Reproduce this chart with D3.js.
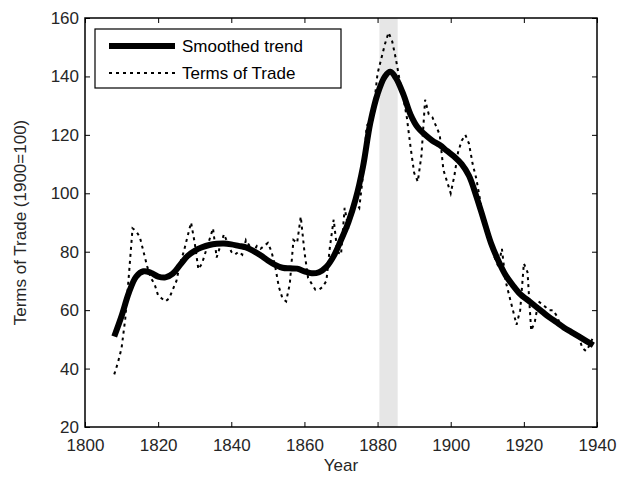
<!DOCTYPE html>
<html>
<head>
<meta charset="utf-8">
<script src="https://cdn.jsdelivr.net/npm/d3@7"></script>
<style>
  body { margin: 0; background: #fff; }
  text { font-family: "Liberation Sans", Arial, Helvetica, sans-serif; }
</style>
</head>
<body>
<svg id="chart" width="623" height="483"></svg>
<script>
// annual terms of trade, 1808..1939
var tradeStart = 1808;
var tradeValues = [
  38, 42, 47, 57, 72, 88, 87, 85, 80, 75,
  71, 69, 65, 64, 63, 64, 67, 70, 76, 80,
  85, 90, 83, 74, 76, 80, 84, 88, 78, 82,
  86, 83, 80, 79, 80, 79, 84, 82, 80, 82,
  81, 82, 83, 80, 75, 68, 64, 63, 69, 84,
  83, 92, 80, 71, 69, 67, 67, 68, 70, 82,
  91, 80, 79, 95, 88, 93, 97, 95, 106, 123,
  125, 130, 141, 146, 151, 155, 152, 146, 139, 133,
  126, 116, 107, 104, 113, 132, 127, 126, 123, 120,
  108, 104, 100, 106, 114, 118, 120, 117, 110, 105,
  98, 90, 87, 84, 78, 75, 81, 70, 65, 60,
  55, 60, 76, 73, 53, 56, 63, 62, 61, 60,
  60, 58, 55, 54, 53, 53, 52, 51, 47, 46,
  48, 51
];

var trendYears = [1808, 1810, 1812, 1814, 1816, 1818, 1820, 1822, 1824, 1826,
  1828, 1830, 1832, 1834, 1836, 1838, 1840, 1842, 1844, 1846,
  1848, 1850, 1852, 1854, 1856, 1858, 1860, 1862, 1864, 1866,
  1868, 1870, 1872, 1874, 1876, 1878, 1880, 1882, 1883.5, 1885,
  1887, 1889, 1891, 1893, 1895, 1897, 1899, 1901, 1903, 1905,
  1907, 1909, 1911, 1913, 1915, 1917, 1919, 1921, 1923, 1925,
  1927, 1929, 1931, 1933, 1935, 1937, 1939];
var trendValues = [51, 58, 66, 71.5, 73.3, 72.8, 71.5, 71.2, 72.5, 75.5,
  78.5, 80.3, 81.5, 82.3, 82.7, 82.8, 82.5, 82, 81.5, 80.3,
  78.8, 77, 75.5, 74.5, 74.3, 74.2, 73.3, 72.6, 73, 74.8,
  78.5, 84, 90, 98, 109, 124, 134, 140, 141.6, 139.5,
  134, 127, 122.5, 120, 118, 116.5, 114.5, 112.5, 110, 106,
  99, 91, 83, 77, 72, 68.5, 65.5, 63.5, 61.5, 59.5,
  57.5, 55.8, 54, 52.5, 51, 49.5, 48];

var bandYears = [1880.5, 1885.5];
var xTicks = [1800, 1820, 1840, 1860, 1880, 1900, 1920, 1940];
var yTicks = [20, 40, 60, 80, 100, 120, 140, 160];
var legendLabels = ['Smoothed trend', 'Terms of Trade'];

var svg = d3.select('#chart');
var plotLeft = 85, plotRight = 597, plotTop = 18, plotBottom = 427;

var x = d3.scaleLinear().domain([1800, 1940]).range([plotLeft, plotRight]);
var y = d3.scaleLinear().domain([20, 160]).range([plotBottom, plotTop]);

var trade = tradeValues.map((v, i) => ({year: tradeStart + i, value: v}));
var trend = trendYears.map((yr, i) => ({year: yr, value: trendValues[i]}));

// shaded period
svg.append('rect')
  .attr('x', x(bandYears[0]))
  .attr('y', plotTop)
  .attr('width', x(bandYears[1]) - x(bandYears[0]))
  .attr('height', plotBottom - plotTop)
  .attr('fill', '#e6e6e6');

var line = d3.line().x(d => x(d.year)).y(d => y(d.value));

svg.append('path')
  .datum(trade)
  .attr('d', line)
  .attr('fill', 'none')
  .attr('stroke', 'black')
  .attr('stroke-width', 2)
  .attr('stroke-dasharray', '3,4');

svg.append('path')
  .datum(trend)
  .attr('d', line.curve(d3.curveCatmullRom))
  .attr('fill', 'none')
  .attr('stroke', 'black')
  .attr('stroke-width', 6)
  .attr('stroke-linejoin', 'round');

// axes, matlab style box with inward ticks
function styleAxis(g) {
  g.select('.domain').remove();
  g.selectAll('line').attr('stroke', 'black').attr('stroke-width', 1);
  g.selectAll('text')
    .attr('fill', '#262626')
    .style('font-size', '17px');
}

svg.append('g')
  .attr('transform', 'translate(0,' + plotBottom + ')')
  .call(d3.axisBottom(x).tickValues(xTicks).tickFormat(d3.format('d')).tickSizeInner(-5).tickPadding(12))
  .call(styleAxis);
svg.append('g')
  .attr('transform', 'translate(0,' + plotTop + ')')
  .call(d3.axisTop(x).tickValues(xTicks).tickFormat('').tickSizeInner(-5))
  .call(styleAxis);
svg.append('g')
  .attr('transform', 'translate(' + plotLeft + ',0)')
  .call(d3.axisLeft(y).tickValues(yTicks).tickSizeInner(-5).tickPadding(6))
  .call(styleAxis);
svg.append('g')
  .attr('transform', 'translate(' + plotRight + ',0)')
  .call(d3.axisRight(y).tickValues(yTicks).tickFormat('').tickSizeInner(-5))
  .call(styleAxis);

svg.append('rect')
  .attr('x', plotLeft).attr('y', plotTop)
  .attr('width', plotRight - plotLeft).attr('height', plotBottom - plotTop)
  .attr('fill', 'none').attr('stroke', 'black').attr('stroke-width', 1.5);

// axis titles
svg.append('text')
  .attr('x', (plotLeft + plotRight) / 2).attr('y', 471)
  .attr('text-anchor', 'middle')
  .attr('fill', '#262626')
  .style('font-size', '17px')
  .text('Year');
svg.append('text')
  .attr('transform', 'translate(26,' + ((plotTop + plotBottom) / 2) + ') rotate(-90)')
  .attr('text-anchor', 'middle')
  .attr('fill', '#262626')
  .style('font-size', '17px')
  .text('Terms of Trade (1900=100)');

// legend
var legend = svg.append('g');
legend.append('rect')
  .attr('x', 95).attr('y', 29).attr('width', 246).attr('height', 59)
  .attr('fill', 'white').attr('stroke', 'black').attr('stroke-width', 1.2);
var legendRows = legend.selectAll('g.row')
  .data(legendLabels)
  .enter().append('g')
  .attr('class', 'row')
  .attr('transform', (d, i) => 'translate(0,' + (46 + i * 27) + ')');
legendRows.append('line')
  .attr('x1', 109).attr('x2', 175)
  .attr('stroke', 'black')
  .attr('stroke-width', (d, i) => i === 0 ? 6 : 2)
  .attr('stroke-dasharray', (d, i) => i === 0 ? null : '3,4');
legendRows.append('text')
  .attr('x', 182).attr('dy', '0.35em')
  .attr('fill', 'black')
  .style('font-size', '17px')
  .text(d => d);
</script>
</body>
</html>
